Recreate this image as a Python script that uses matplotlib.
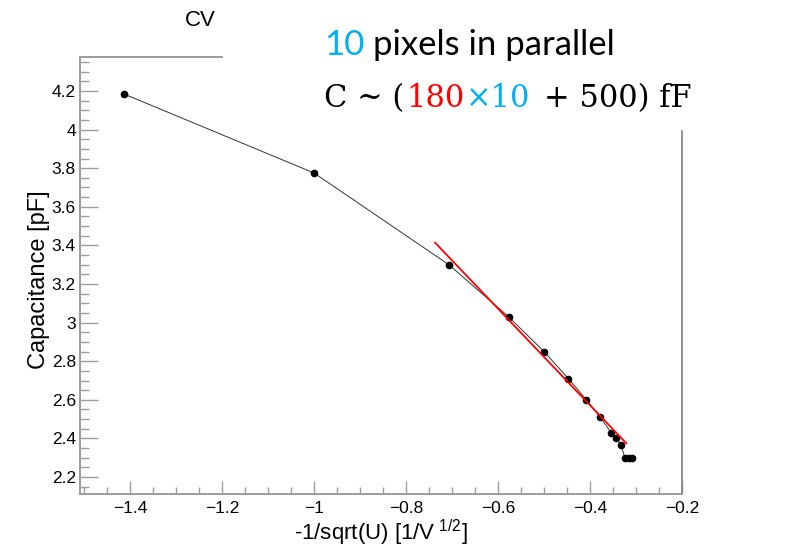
import numpy as np
import matplotlib
matplotlib.use('Agg')
import matplotlib.pyplot as plt
from matplotlib.ticker import MultipleLocator

plt.rcParams['font.family'] = 'Liberation Sans'
plt.rcParams['mathtext.default'] = 'regular'

# measured points: x = -1/sqrt(U), capacitance in pF
x_vals = [-1.414, -1.0, -0.707, -0.577, -0.500, -0.447, -0.408, -0.378,
          -0.354, -0.343, -0.333, -0.324, -0.316, -0.309]
c_vals = [4.185, 3.775, 3.30, 3.03, 2.85, 2.71, 2.60, 2.51,
          2.43, 2.40, 2.365, 2.30, 2.30, 2.30]

# linear fit shown in red
fit_range = [-0.737, -0.321]
fit_slope = -2.50
fit_offset = 1.572

grey = '#9c9c9c'

fig = plt.figure(figsize=(7.92, 5.49), dpi=100)
ax = fig.add_axes([80 / 792, 1 - 494 / 549, 602 / 792, 437 / 549])

ax.plot(x_vals, c_vals, color='#333333', lw=0.7, marker='o', ms=4.5,
        mfc='black', mec='black', zorder=3)
fx = np.array(fit_range)
ax.plot(fx, fit_offset + fit_slope * fx, color='red', lw=1.3, zorder=4)

ax.set_xlim(-1.509, -0.2)
ax.set_ylim(2.112, 4.376)

def fmt(v, p):
    s = '%g' % round(v, 2)
    return s.replace('-', '\u2212')

ax.xaxis.set_major_locator(MultipleLocator(0.2))
ax.xaxis.set_minor_locator(MultipleLocator(0.05))
ax.yaxis.set_major_locator(MultipleLocator(0.2))
ax.yaxis.set_minor_locator(MultipleLocator(0.05))
ax.xaxis.set_major_formatter(fmt)
ax.yaxis.set_major_formatter(fmt)

ax.tick_params(axis='x', which='major', direction='in', length=9.5, width=1,
               color=grey, labelsize=12.5, pad=5, top=False)
ax.tick_params(axis='x', which='minor', direction='in', length=5, width=1,
               color=grey, top=False)
ax.tick_params(axis='y', which='major', direction='in', length=13, width=1,
               color=grey, labelsize=12.5, pad=3, right=False)
ax.tick_params(axis='y', which='minor', direction='in', length=6.5, width=1,
               color=grey, right=False)

for s in ['top', 'right']:
    ax.spines[s].set_visible(False)
for s in ['left', 'bottom']:
    ax.spines[s].set_color(grey)
    ax.spines[s].set_linewidth(1.4)

# frame pieces left visible around the pasted text box
ax.plot([0, (222 - 80) / 602], [1, 1], color=grey, lw=1.4,
        transform=ax.transAxes, clip_on=False)
ax.plot([1, 1], [0, (494 - 131) / 437], color='#808080', lw=1.2,
        transform=ax.transAxes, clip_on=False)

ax.set_xlabel(r'-1/sqrt(U) [1/V$^{\ 1/2}$]', fontsize=16)
ax.xaxis.set_label_coords(0.5, -0.054)
ax.set_ylabel('Capacitance [pF]', fontsize=17)
ax.yaxis.set_label_coords(-0.05, 0.49)

fig.text(200 / 792, 1 - 20 / 549, 'CV', fontsize=16, ha='center', va='center')

# annotation box text, pieces laid out one after another
blue = '#00b0f0'
renderer = fig.canvas.get_renderer()

def write_line(x0, y0, pieces, size, family):
    x = x0
    for txt, col, gap in pieces:
        x += gap
        t = fig.text(x / 792, 1 - y0 / 549, txt, color=col, fontsize=size,
                     family=family, ha='left', va='baseline')
        bb = t.get_window_extent(renderer)
        x = bb.x1

write_line(324, 55, [('10', blue, 0), ('pixels in parallel', 'black', 9)],
           25, 'Lato')
write_line(324, 107, [('C ~ (', 'black', 0), ('180', 'red', 2),
                      ('×10', blue, 1), ('+ 500) fF', 'black', 14)],
           22, 'DejaVu Serif')

fig.savefig('out.png', dpi=100)
